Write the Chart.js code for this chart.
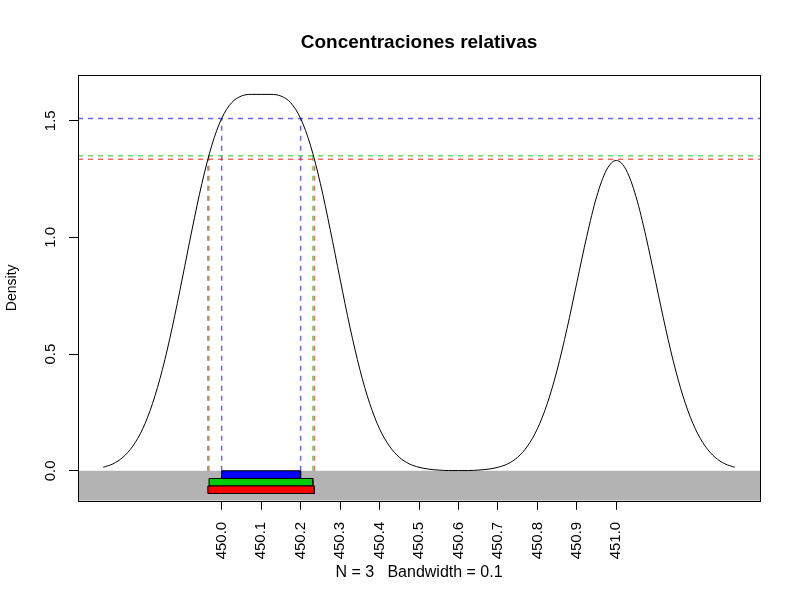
<!DOCTYPE html>
<html lang="es">
<head>
    <meta charset="UTF-8">
    <title>Concentraciones relativas</title>
    <script src="https://cdn.jsdelivr.net/npm/chart.js@4.4.0/dist/chart.umd.min.js"></script>
    <style>
        html, body { margin: 0; padding: 0; background: #fff; }
        #wrap { width: 800px; height: 600px; }
    </style>
</head>
<body>
    <div id="wrap"><canvas id="grafico" width="800" height="600"></canvas></div>

    <script>
        // Curva de densidad
        const densX = [
            449.700, 449.725, 449.750, 449.775, 449.800, 449.825, 449.850, 449.875,
            449.900, 449.925, 449.950, 449.975, 450.000, 450.025, 450.050, 450.075,
            450.100, 450.125, 450.150, 450.175, 450.200, 450.225, 450.250, 450.275,
            450.300, 450.325, 450.350, 450.375, 450.400, 450.425, 450.450, 450.475,
            450.500, 450.525, 450.550, 450.575, 450.600, 450.625, 450.650, 450.675,
            450.700, 450.725, 450.750, 450.775, 450.800, 450.825, 450.850, 450.875,
            450.900, 450.925, 450.950, 450.975, 451.000, 451.025, 451.050, 451.075,
            451.100, 451.125, 451.150, 451.175, 451.200, 451.225, 451.250, 451.275,
            451.300
        ];
        const densY = [
            0.015, 0.030, 0.058, 0.106, 0.180, 0.289, 0.435, 0.616,
            0.822, 1.034, 1.232, 1.395, 1.510, 1.577, 1.606, 1.613,
            1.613, 1.613, 1.606, 1.577, 1.510, 1.395, 1.232, 1.034,
            0.822, 0.616, 0.435, 0.289, 0.180, 0.106, 0.058, 0.030,
            0.015, 0.007, 0.003, 0.001, 0.001, 0.001, 0.003, 0.007,
            0.015, 0.030, 0.058, 0.106, 0.180, 0.288, 0.432, 0.609,
            0.807, 1.004, 1.174, 1.289, 1.330, 1.289, 1.174, 1.004,
            0.807, 0.609, 0.432, 0.288, 0.180, 0.106, 0.058, 0.030,
            0.015
        ];

        // Intervalos (azul, verde, rojo)
        const nivelAltura = [1.51, 1.35, 1.335];
        const intervaloInf = [450.000, 449.968, 449.965];
        const intervaloSup = [450.200, 450.231, 450.235];
        const barraArriba = [0.000, -0.033, -0.065];
        const barraAbajo = [-0.033, -0.065, -0.097];

        // Ejes
        const xTicks = [450.0, 450.1, 450.2, 450.3, 450.4, 450.5, 450.6, 450.7, 450.8, 450.9, 451.0];
        const yTicks = [0.0, 0.5, 1.0, 1.5];
        const xMin = 449.636, xMax = 451.364;
        const yMin = -0.1286, yMax = 1.697;

        const coloresBarra = ['#0000ff', '#00cd00', '#ff0000'];
        const coloresLinea = ['rgba(0,0,255,0.6)', 'rgba(0,200,0,0.6)', 'rgba(255,0,0,0.6)'];
        const fuente = "'Liberation Sans', Arial, Helvetica, sans-serif";

        const datasets = [];

        // Fondo gris bajo el cero
        datasets.push({
            data: [{x: xMin, y: 0}, {x: xMax, y: 0}, {x: xMax, y: yMin}, {x: xMin, y: yMin}, {x: xMin, y: 0}],
            showLine: true, fill: 'shape', backgroundColor: '#b3b3b3',
            borderWidth: 0, pointRadius: 0, tension: 0, order: 20
        });

        // Barras de los intervalos
        for (let i = 0; i < 3; i++) {
            const a = intervaloInf[i], b = intervaloSup[i];
            const t = barraArriba[i], d = barraAbajo[i];
            datasets.push({
                data: [{x: a, y: t}, {x: b, y: t}, {x: b, y: d}, {x: a, y: d}, {x: a, y: t}],
                showLine: true, fill: 'shape', backgroundColor: coloresBarra[i],
                borderColor: '#000', borderWidth: 1, pointRadius: 0, tension: 0, order: 10 - i
            });
        }

        // Líneas discontinuas horizontales y verticales
        for (let i = 0; i < 3; i++) {
            const h = nivelAltura[i];
            const comun = {
                showLine: true, fill: false, borderColor: coloresLinea[i], borderWidth: 1.5,
                borderDash: [5, 5], pointRadius: 0, tension: 0, order: 4 - i
            };
            datasets.push(Object.assign({ data: [{x: xMin, y: h}, {x: xMax, y: h}] }, comun));
            datasets.push(Object.assign({ data: [{x: intervaloInf[i], y: 0}, {x: intervaloInf[i], y: h}] }, comun));
            datasets.push(Object.assign({ data: [{x: intervaloSup[i], y: 0}, {x: intervaloSup[i], y: h}] }, comun));
        }

        // Curva de densidad
        datasets.push({
            data: densX.map((x, i) => ({x: x, y: densY[i]})),
            showLine: true, fill: false, borderColor: '#000', borderWidth: 1,
            pointRadius: 0, cubicInterpolationMode: 'monotone', order: 0
        });

        // Caja del gráfico y etiquetas del eje Y (giradas, estilo R)
        const cajaR = {
            id: 'cajaR',
            afterDraw(chart) {
                const ctx = chart.ctx;
                const area = chart.chartArea;
                const ys = chart.scales.y;
                ctx.save();
                ctx.strokeStyle = '#000';
                ctx.lineWidth = 1;
                ctx.strokeRect(Math.round(area.left) + 0.5, Math.round(area.top) + 0.5,
                    Math.round(area.right - area.left), Math.round(area.bottom - area.top));
                ctx.fillStyle = '#000';
                ctx.font = '15px ' + fuente;
                ctx.textAlign = 'center';
                ctx.textBaseline = 'middle';
                yTicks.forEach(v => {
                    const py = ys.getPixelForValue(v);
                    ctx.save();
                    ctx.translate(51, py);
                    ctx.rotate(-Math.PI / 2);
                    ctx.fillText(v.toFixed(1), 0, 0);
                    ctx.restore();
                });
                ctx.restore();
            }
        };

        new Chart(document.getElementById('grafico'), {
            type: 'scatter',
            data: { datasets: datasets },
            plugins: [cajaR],
            options: {
                responsive: false,
                animation: false,
                events: [],
                layout: { padding: { left: 0, right: 40, top: 0, bottom: 0 } },
                plugins: {
                    legend: { display: false },
                    tooltip: { enabled: false },
                    title: {
                        display: true,
                        text: 'Concentraciones relativas',
                        fullSize: false,
                        color: '#000',
                        font: { family: fuente, size: 19, weight: 'bold', lineHeight: 1.2 },
                        padding: { top: 31, bottom: 21 }
                    },
                    subtitle: {
                        display: true,
                        position: 'bottom',
                        text: 'N = 3   Bandwidth = 0.1',
                        fullSize: false,
                        color: '#000',
                        font: { family: fuente, size: 16, lineHeight: 1.2 },
                        padding: { top: 0, bottom: 18 }
                    }
                },
                scales: {
                    x: {
                        type: 'linear',
                        min: xMin,
                        max: xMax,
                        afterBuildTicks: s => { s.ticks = xTicks.map(v => ({ value: v })); },
                        afterFit: s => { s.height = 62; },
                        ticks: {
                            autoSkip: false,
                            minRotation: 90,
                            maxRotation: 90,
                            padding: 12,
                            color: '#000',
                            font: { family: fuente, size: 15 },
                            callback: v => Number(v).toFixed(1)
                        },
                        grid: { drawOnChartArea: false, drawTicks: true, tickLength: 9, color: '#000' },
                        border: { display: false }
                    },
                    y: {
                        type: 'linear',
                        min: yMin,
                        max: yMax,
                        afterBuildTicks: s => { s.ticks = yTicks.map(v => ({ value: v })); },
                        afterFit: s => { s.width = 78; },
                        ticks: { display: false },
                        grid: { drawOnChartArea: false, drawTicks: true, tickLength: 9, color: '#000' },
                        border: { display: false },
                        title: {
                            display: true,
                            text: 'Density',
                            color: '#000',
                            font: { family: fuente, size: 14, lineHeight: 1.2 },
                            padding: { top: 4, bottom: 0 }
                        }
                    }
                }
            }
        });
    </script>
</body>
</html>
